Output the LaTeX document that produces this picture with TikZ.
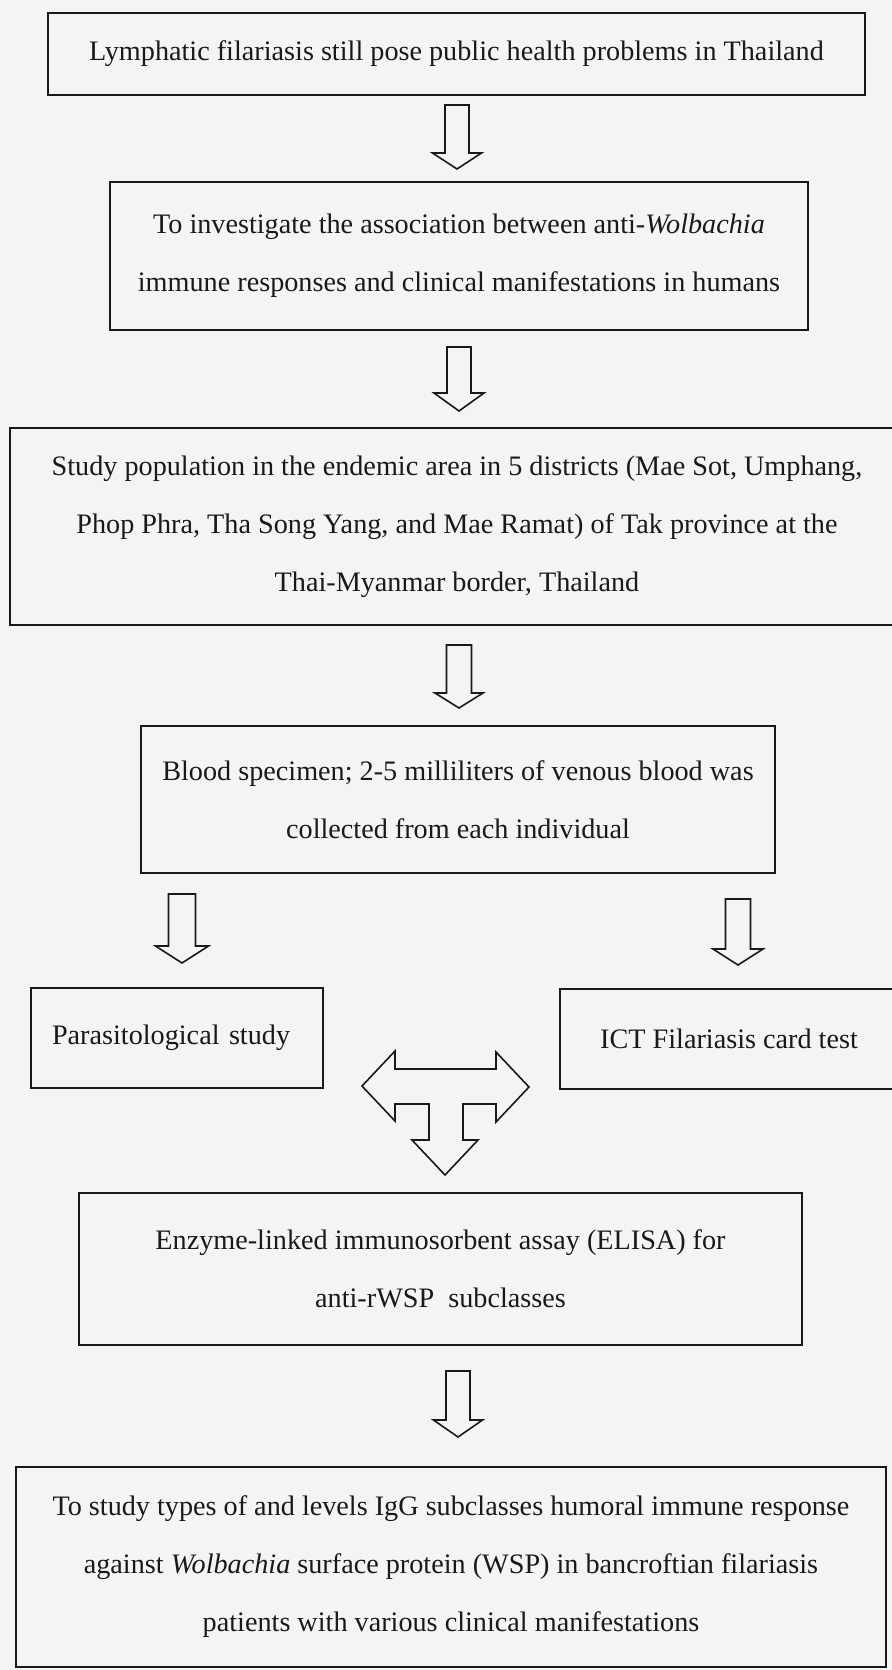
\documentclass[tikz,border=0pt]{standalone}
\usepackage{fontspec}
\setmainfont{Liberation Serif}
\usetikzlibrary{calc}
\definecolor{bgcol}{RGB}{244,244,243}
\definecolor{ink}{RGB}{25,25,25}
\tikzset{
  box/.style={draw=ink, line width=1pt, inner sep=0pt, align=center, text=ink,
    font=\fontsize{14.1}{29}\selectfont},
  blockarrow/.style={draw=ink, line width=0.8pt, line join=miter},
}
% name, cx, ytop, yhead, ytip, shaft half width, head half width
\newcommand{\dnarrow}[7]{%
  \coordinate (#1) at (#2,#3);
  \draw[blockarrow] ({#2-#6},#3) -- ({#2+#6},#3) -- ({#2+#6},#4) -- ({#2+#7},#4)
    -- (#2,#5) -- ({#2-#7},#4) -- ({#2-#6},#4) -- cycle;}
\begin{document}
\begin{tikzpicture}[x=0.5pt,y=-0.5pt]
\useasboundingbox (0,0) rectangle (892,1670);
\clip (0,0) rectangle (892,1670);
\fill[bgcol] (0,0) rectangle (892,1670);

\node[box, minimum width=408.5pt, minimum height=41pt] (b1) at (456.5,54)
  {Lymphatic filariasis still pose public health problems in Thailand};
\node[box, minimum width=349pt, minimum height=74pt] (b2) at (459,256)
  {To investigate the association between anti-\textit{Wolbachia}\\
   immune responses and clinical manifestations in humans};
\node[box, minimum width=447pt, minimum height=98.5pt] (b3) at (457,526.5)
  {Study population in the endemic area in 5 districts (Mae Sot, Umphang,\\
   Phop Phra, Tha Song Yang, and Mae Ramat) of Tak province at the\\
   Thai-Myanmar border, Thailand};
\node[box, minimum width=317pt, minimum height=73.5pt] (b4) at (458,799.5)
  {Blood specimen; 2-5 milliliters of venous blood was\\
   collected from each individual};
\node[box, minimum height=50pt, text width=125pt, inner xsep=10.5pt, align=left] (para) at (177,1038)
  {Parasitological study};
\node[box, minimum width=169pt, minimum height=50pt] (ict) at (729,1039)
  {ICT Filariasis card test};
\node[box, minimum width=361.5pt, minimum height=76pt] (elisa) at (440.5,1269)
  {Enzyme-linked immunosorbent assay (ELISA) for\\
   anti-rWSP\ \ subclasses};
\node[box, minimum width=435pt, minimum height=100pt] (final) at (451,1567)
  {To study types of and levels IgG subclasses humoral immune response\\
   against \textit{Wolbachia} surface protein (WSP) in bancroftian filariasis\\
   patients with various clinical manifestations};

\dnarrow{a1}{457}{105}{153}{169}{12}{24.5}
\dnarrow{a2}{459}{347}{393}{411}{12}{25}
\dnarrow{a3}{459}{645}{693}{708}{12.5}{24}
\dnarrow{aL}{182}{894}{946}{963}{13.5}{26.5}
\dnarrow{aR}{738}{899}{949}{965}{12.5}{25}
\dnarrow{a5}{458}{1371}{1420}{1437}{12}{24.5}

\coordinate (tarrow) at (445,1087);
\draw[blockarrow] (362,1086) -- (395,1051) -- (395,1069) -- (496,1069) -- (496,1052)
  -- (529,1087) -- (496,1122) -- (496,1104) -- (463,1104) -- (463,1140) -- (478,1140)
  -- (445,1175) -- (412,1140) -- (429,1140) -- (429,1104) -- (395,1104) -- (395,1121) -- cycle;
\end{tikzpicture}
\end{document}
